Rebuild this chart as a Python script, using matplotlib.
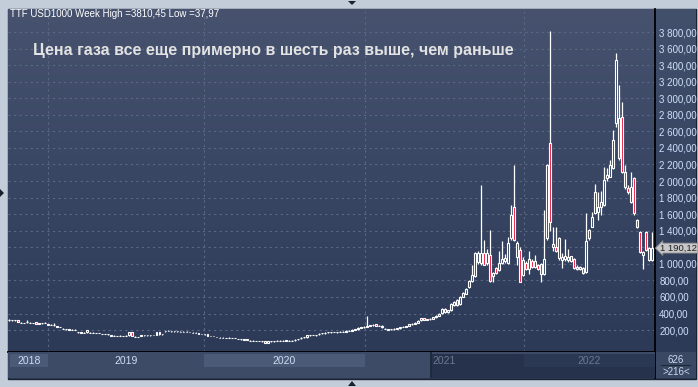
import matplotlib
matplotlib.use("Agg")
import matplotlib.pyplot as plt
import numpy as np
from matplotlib.colors import LinearSegmentedColormap
from matplotlib.patches import Rectangle, Polygon
from matplotlib.ticker import FuncFormatter
from matplotlib.transforms import blended_transform_factory

plt.rcParams['font.family'] = ['Liberation Sans', 'DejaVu Sans']

# weekly TTF candles, USD per 1000 m3 (Oct 2018 - Nov 2022)
open_ = [322, 316, 317, 320, 288, 283, 296, 286, 283, 295,
         277, 282, 285, 266, 263, 260, 243, 236, 213, 210,
         205, 202, 203, 173, 170, 168, 172, 168, 166, 165,
         163, 153, 150, 148, 133, 130, 128, 131, 128, 130,
         135, 178, 120, 116, 133, 138, 136, 140, 138, 145,
         175, 150, 186, 188, 184, 186, 183, 180, 178, 180,
         176, 168, 166, 158, 151, 148, 152, 128, 125, 116,
         108, 106, 105, 107, 104, 103, 90, 86, 84, 85,
         70, 68, 66, 65, 64, 64, 44, 62, 63, 68,
         70, 70, 72, 68, 70, 83, 88, 108, 113, 112,
         138, 140, 136, 156, 160, 168, 173, 173, 176, 174,
         176, 180, 178, 190, 192, 205, 210, 228, 235, 240,
         250, 258, 272, 250, 252, 213, 206, 208, 210, 215,
         222, 236, 240, 248, 270, 275, 290, 318, 342, 322,
         330, 335, 352, 372, 405, 455, 420, 442, 503, 563,
         515, 603, 640, 716, 796, 853, 1020, 1010, 1134, 1007,
         1106, 853, 945, 925, 1010, 1040, 1010, 1312, 1690, 1080,
         1167, 865, 1014, 940, 1030, 965, 985, 1000, 880, 1312,
         2456, 1200, 1200, 1070, 1046, 1062, 1046, 1040, 1058, 960,
         935, 955, 900, 1308, 1449, 1610, 1630, 1690, 1710, 2033,
         2053, 2158, 2697, 2758, 2777, 2113, 1912, 1750, 2033, 1530,
         1388, 1106, 1388, 1046, 1050]
high = [330, 322, 324, 324, 294, 290, 318, 292, 288, 298,
        286, 290, 294, 272, 268, 290, 250, 242, 220, 216,
        212, 208, 209, 180, 176, 174, 202, 174, 172, 170,
        168, 158, 156, 154, 138, 136, 134, 136, 134, 136,
        182, 182, 126, 122, 138, 144, 142, 146, 144, 176,
        180, 156, 192, 195, 190, 192, 188, 186, 184, 186,
        182, 174, 172, 164, 157, 154, 156, 134, 130, 122,
        114, 112, 110, 114, 110, 108, 96, 92, 90, 92,
        76, 74, 72, 70, 70, 66, 66, 68, 70, 74,
        76, 76, 80, 74, 76, 90, 94, 114, 120, 144,
        144, 146, 142, 162, 166, 174, 178, 180, 182, 180,
        186, 184, 196, 198, 210, 214, 232, 240, 246, 370,
        262, 268, 276, 260, 256, 220, 218, 214, 220, 226,
        240, 244, 252, 274, 280, 294, 318, 344, 346, 336,
        340, 356, 378, 406, 468, 470, 448, 522, 552, 572,
        612, 660, 712, 808, 986, 1140, 1150, 1952, 1290, 1180,
        1408, 900, 960, 1150, 1270, 1120, 1330, 1710, 2194, 1270,
        1200, 1080, 1030, 1150, 1060, 1110, 1000, 1010, 1650, 2200,
        3810, 1450, 1450, 1320, 1128, 1300, 1180, 1100, 1070, 980,
        970, 960, 1614, 1420, 1630, 1970, 1870, 1875, 2175, 2160,
        2255, 2617, 3543, 3160, 2958, 2194, 1950, 2110, 2050, 1540,
        1400, 1150, 1400, 1200, 1388]
low = [315, 312, 312, 292, 284, 280, 282, 282, 280, 274,
       272, 276, 280, 262, 260, 255, 240, 232, 210, 206,
       202, 200, 198, 170, 168, 165, 168, 166, 164, 162,
       160, 150, 148, 146, 130, 128, 126, 126, 126, 126,
       130, 126, 118, 114, 130, 132, 132, 134, 136, 140,
       146, 146, 182, 184, 182, 182, 180, 178, 176, 176,
       172, 166, 164, 156, 150, 146, 130, 126, 124, 114,
       106, 104, 104, 104, 102, 100, 88, 84, 82, 82,
       68, 66, 64, 62, 60, 38, 40, 58, 60, 62,
       66, 68, 68, 62, 66, 70, 82, 86, 106, 110,
       134, 136, 134, 136, 154, 158, 166, 170, 172, 170,
       172, 172, 176, 186, 190, 200, 206, 224, 230, 236,
       246, 252, 246, 244, 230, 210, 202, 204, 206, 210,
       218, 232, 236, 244, 264, 270, 286, 312, 318, 316,
       324, 330, 346, 365, 398, 412, 410, 436, 496, 495,
       508, 596, 632, 706, 786, 845, 1000, 990, 980, 990,
       780, 780, 880, 915, 1000, 1010, 1000, 1290, 1270, 990,
       780, 850, 920, 880, 950, 950, 930, 780, 860, 1290,
       1400, 1150, 1140, 1050, 950, 1040, 1020, 1020, 940, 930,
       920, 880, 885, 1290, 1440, 1600, 1530, 1590, 1700, 1995,
       2050, 2150, 2650, 2250, 2100, 1900, 1840, 1740, 1590, 1430,
       1130, 934, 1160, 1040, 1040]
close = [325, 318, 320, 298, 290, 285, 300, 288, 285, 278,
         280, 285, 288, 268, 265, 262, 245, 238, 215, 212,
         207, 204, 205, 175, 172, 170, 198, 170, 168, 167,
         165, 155, 152, 150, 135, 132, 130, 133, 130, 132,
         178, 130, 122, 118, 135, 140, 138, 142, 140, 172,
         150, 152, 188, 190, 186, 188, 185, 182, 180, 182,
         178, 170, 168, 160, 153, 150, 132, 130, 127, 118,
         110, 108, 107, 109, 106, 105, 92, 88, 86, 87,
         72, 70, 68, 67, 66, 42, 62, 64, 65, 70,
         72, 72, 74, 70, 72, 85, 90, 110, 115, 140,
         140, 142, 138, 158, 162, 170, 175, 175, 178, 176,
         180, 178, 190, 192, 205, 210, 228, 235, 240, 250,
         258, 262, 250, 255, 235, 215, 208, 210, 215, 222,
         236, 240, 248, 270, 275, 290, 315, 340, 322, 330,
         335, 352, 372, 400, 460, 420, 440, 515, 542, 503,
         603, 651, 700, 796, 865, 1127, 1127, 1127, 986, 1127,
         792, 890, 890, 1010, 1058, 1070, 1250, 1590, 1288, 1250,
         784, 1050, 934, 1060, 960, 1040, 940, 880, 1060, 2194,
         1509, 1240, 1160, 1312, 1082, 1094, 1082, 1090, 950, 940,
         960, 895, 1279, 1409, 1570, 1872, 1690, 1750, 2013, 2073,
         2194, 2496, 3462, 2275, 2113, 1932, 1862, 1932, 1610, 1441,
         1146, 1143, 1167, 1190, 1190]

last_price = 1190.12
price_levels = [200, 400, 600, 800, 1000, 1200, 1400, 1600, 1800, 2000,
                2200, 2400, 2600, 2800, 3000, 3200, 3400, 3600, 3800]
years = ['2018', '2019', '2020', '2021', '2022']
year_start_bar = [13.0, 64.7, 118.3, 171.3]   # bar index where each new year starts

W, H = 698, 387
fig = plt.figure(figsize=(W / 100, H / 100), dpi=100)
fig.patch.set_facecolor('#c3cdda')


def box(x0, y0, x1, y1):
    return [x0 / W, 1 - y1 / H, (x1 - x0) / W, (y1 - y0) / H]


def pt(x, y):
    return (x / W, 1 - y / H)


def gradient(ax, top, bottom):
    cmap = LinearSegmentedColormap.from_list('g', [bottom, top])
    ax.imshow(np.linspace(0, 1, 256).reshape(-1, 1), cmap=cmap, origin='lower',
              aspect='auto', extent=[0, 1, 0, 1], transform=ax.transAxes, zorder=0)


def fmt(v):
    return f'{v:,.2f}'.replace(',', ' ').replace('.', ',')


# dark outer panel (behind the axes)
fig.add_artist(Rectangle(pt(8, 379), 688 / W, 370 / H, transform=fig.transFigure,
                         fc='#2f3c58', ec='#1b2333', lw=1, zorder=-5))

# right price panel
rax = fig.add_axes(box(655, 9, 696, 352))
gradient(rax, '#43506c', '#2d3a57')
rax.axis('off')

# corner box
cax = fig.add_axes(box(655, 352, 696, 378))
cax.set_facecolor('#3a4863')
cax.set_xticks([]); cax.set_yticks([])
for s in cax.spines.values():
    s.set_visible(False)
cax.spines['left'].set_visible(True)
cax.spines['left'].set_color('black')
cax.spines['left'].set_linewidth(1.3)
cax.plot([0.15, 0.85], [0.5, 0.5], color='#1f2838', lw=0.8, transform=cax.transAxes)
fig.text(*pt(676, 360), '626', ha='center', va='center', fontsize=7, color='#cbd9ef')
fig.text(*pt(676, 372), '>216<', ha='center', va='center', fontsize=7, color='#cbd9ef')

# main chart
ax = fig.add_axes(box(8, 9, 655, 352))
gradient(ax, '#46526e', '#2c3a58')

x = np.arange(len(close))
o = np.array(open_, float)
c = np.array(close, float)
hi = np.array(high, float)
lo = np.array(low, float)
top = np.maximum(o, c)
bot = np.minimum(o, c)
up = c >= o

ax.vlines(x, top, hi, color='white', lw=0.9, zorder=3)
ax.vlines(x, lo, bot, color='white', lw=0.9, zorder=3)
ax.bar(x[up], (top - bot)[up], bottom=bot[up], width=0.62, facecolor='#34425f',
       edgecolor='white', lw=0.8, zorder=4)
ax.bar(x[~up], (top - bot)[~up], bottom=bot[~up], width=0.62, facecolor='#e8173d',
       edgecolor='white', lw=0.8, zorder=4)

grid_style = dict(color='#5b6883', lw=0.8, ls=(0, (2, 3)), zorder=1)
for v in price_levels:
    ax.axhline(v, **grid_style)
for b in year_start_bar:
    ax.axvline(b, **grid_style)

ax.set_xlim(-0.4, 214.9)
ax.set_ylim(-65, 4078)
ax.set_xticks([])
ax.set_yticks(price_levels)
ax.yaxis.set_major_formatter(FuncFormatter(lambda v, p: fmt(v)))
ax.yaxis.tick_right()
ax.tick_params(axis='y', length=0, pad=3, labelsize=7, labelcolor='#cfe0fa')
for s in ['top', 'left']:
    ax.spines[s].set_visible(False)
for s in ['right', 'bottom']:
    ax.spines[s].set_color('black')
    ax.spines[s].set_linewidth(1.3)

# last price tag
tr = blended_transform_factory(ax.transAxes, ax.transData)
ax.text(1.0085, last_price, fmt(last_price), transform=tr, ha='left', va='center',
        fontsize=6.8, color='#202020', zorder=10, clip_on=False,
        bbox=dict(boxstyle='larrow,pad=0.05', fc='#c8c8c8', ec='#8a8a8a', lw=0.6))

# date strip
dax = fig.add_axes(box(8, 352, 655, 378))
dax.set_xlim(ax.get_xlim()); dax.set_ylim(0, 1)
dax.set_facecolor('#3d4b66')
dax.set_xticks([]); dax.set_yticks([])
for s in dax.spines.values():
    s.set_visible(False)
x0, x1 = ax.get_xlim()
edges = [x0 + 0.5] + year_start_bar + [x1]
dark_from = 140.3
dax.add_patch(Rectangle((dark_from, 0), x1 - dark_from, 0.92, fc='#26324b', ec='none'))
dax.axvline(dark_from, color='#1d2638', lw=1.2)
for k, yr in enumerate(years):
    a, b = edges[k], edges[k + 1]
    dark = a >= dark_from
    if k % 2 == 0:
        dax.add_patch(Rectangle((a, 0.42), b - a, 0.5,
                                fc='#2b3853' if dark else '#4b5a77', ec='none'))
    dax.text((a + b) / 2, 0.66, yr, ha='center', va='center', fontsize=7.5,
             color='#6b7990' if (a + b) / 2 > dark_from else '#d0ddf2')

# header texts
fig.text(10 / W, 1 - 14 / H, 'TTF USD1000 Week High =3810,45 Low =37,97',
         fontsize=7, color='white', va='center')
fig.text(33 / W, 1 - 51 / H, 'Цена газа все еще примерно в шесть раз выше, чем раньше',
         fontsize=11.5, fontweight='bold', color='#e2e2e2', va='center')

# little scroll markers on the frame
for tri in ([(348, 1), (356, 1), (352, 5)],
            [(0, 189), (0, 197), (4, 193)],
            [(348, 386), (356, 386), (352, 381)]):
    fig.add_artist(Polygon([pt(*p) for p in tri], closed=True,
                           transform=fig.transFigure, fc='#1a1f2a', ec='none'))

fig.savefig('out.png', dpi=100, facecolor=fig.get_facecolor())
